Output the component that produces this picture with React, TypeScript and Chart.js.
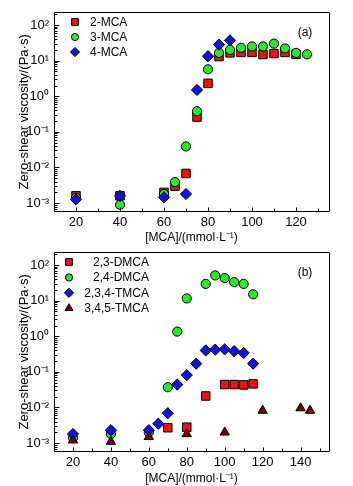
import React, { useEffect, useRef } from "react";
import { Chart, registerables } from "chart.js";
Chart.register(...registerables);

// ---------- Panel (a) data ----------
const mca2X = [20, 40, 60, 65, 70, 75, 80, 85, 90, 95, 100, 105, 110, 115, 120];
const mca2Y = [1.6e-3, 1.6e-3, 2.0e-3, 3.0e-3, 6.8e-3, 0.26, 2.3, 13, 16.5, 17, 17, 14.8, 15.8, 17, 15];
const mca3X = [20, 40, 60, 65, 70, 75, 80, 85, 90, 95, 100, 105, 110, 115, 120, 125];
const mca3Y = [1.4e-3, 9e-4, 1.8e-3, 3.9e-3, 0.039, 0.38, 5.7, 16.5, 20, 23, 25, 25, 30, 22, 16.5, 15];
const mca4X = [20, 40, 60, 70, 75, 80, 85, 90];
const mca4Y = [1.26e-3, 1.6e-3, 1.45e-3, 1.8e-3, 1.5, 13.3, 28, 37];

// ---------- Panel (b) data ----------
const dm23X = [70, 80, 90, 100, 105, 110, 115];
const dm23Y = [2.7e-3, 2.8e-3, 0.021, 0.044, 0.044, 0.043, 0.046];
const dm24X = [20, 40, 60, 70, 75, 80, 90, 95, 100, 105, 110, 115];
const dm24Y = [1.4e-3, 1.8e-3, 2.0e-3, 0.037, 1.35, 11.5, 29.5, 51, 43, 33, 29.5, 15];
const tm234X = [20, 40, 60, 65, 70, 75, 80, 85, 90, 95, 100, 105, 110, 115];
const tm234Y = [1.8e-3, 2.3e-3, 2.3e-3, 3.5e-3, 6.9e-3, 0.044, 0.081, 0.17, 0.4, 0.42, 0.43, 0.38, 0.34, 0.17];
const tm345X = [20, 40, 60, 80, 100, 120, 140, 145];
const tm345Y = [1.2e-3, 1.1e-3, 1.5e-3, 1.8e-3, 2.0e-3, 8.2e-3, 9.6e-3, 8.2e-3];

// ---------- Axis ticks ----------
const yTickValues = [1e-3, 1e-2, 1e-1, 1, 10, 100];
const yTickLabels = ["10⁻³", "10⁻²", "10⁻¹", "10⁰", "10¹", "10²"];
const xLabelValuesA = [20, 40, 60, 80, 100, 120];
const xLabelValuesB = [20, 40, 60, 80, 100, 120, 140];
const xMinorA = [10, 20, 30, 40, 50, 60, 70, 80, 90, 100, 110, 120, 130];
const xMinorB = [10, 20, 30, 40, 50, 60, 70, 80, 90, 100, 110, 120, 130, 140, 150];

const xTitle = "[MCA]/(mmol·L⁻¹)";
const yTitle = "Zero-shear viscosity/(Pa·s)";

const FONT = "'Liberation Sans', Arial, Helvetica, sans-serif";
const RED = "#f21010";
const GREEN = "#22ee22";
const BLUE = "#1010f0";
const DARKRED = "#7a0000";

type Series = {
  label: string;
  x: number[];
  y: number[];
  color: string;
  shape: string;
  r: number;
  lr: number;
  order: number;
};

const seriesA: Series[] = [
  { label: "2-MCA", x: mca2X, y: mca2Y, color: RED, shape: "rect", r: 6, lr: 4.8, order: 2 },
  { label: "3-MCA", x: mca3X, y: mca3Y, color: GREEN, shape: "circle", r: 4.6, lr: 3.6, order: 1 },
  { label: "4-MCA", x: mca4X, y: mca4Y, color: BLUE, shape: "rectRot", r: 5.6, lr: 4.6, order: 0 },
];
const seriesB: Series[] = [
  { label: "2,3-DMCA", x: dm23X, y: dm23Y, color: RED, shape: "rect", r: 6, lr: 4.8, order: 3 },
  { label: "2,4-DMCA", x: dm24X, y: dm24Y, color: GREEN, shape: "circle", r: 4.6, lr: 3.6, order: 2 },
  { label: "2,3,4-TMCA", x: tm234X, y: tm234Y, color: BLUE, shape: "rectRot", r: 5.6, lr: 4.6, order: 1 },
  { label: "3,4,5-TMCA", x: tm345X, y: tm345Y, color: DARKRED, shape: "triangle", r: 5.4, lr: 4.6, order: 0 },
];

function drawMarker(ctx: CanvasRenderingContext2D, shape: string, x: number, y: number, r: number, color: string) {
  ctx.beginPath();
  if (shape === "rect") {
    const s = Math.SQRT1_2 * r;
    ctx.rect(x - s, y - s, 2 * s, 2 * s);
  } else if (shape === "circle") {
    ctx.arc(x, y, r, 0, Math.PI * 2);
  } else if (shape === "rectRot") {
    ctx.moveTo(x, y - r);
    ctx.lineTo(x + r, y);
    ctx.lineTo(x, y + r);
    ctx.lineTo(x - r, y);
    ctx.closePath();
  } else if (shape === "triangle") {
    let a = 0;
    ctx.moveTo(x + Math.sin(a) * r, y - Math.cos(a) * r);
    a += (2 * Math.PI) / 3;
    ctx.lineTo(x + Math.sin(a) * r, y - Math.cos(a) * r);
    a += (2 * Math.PI) / 3;
    ctx.lineTo(x + Math.sin(a) * r, y - Math.cos(a) * r);
    ctx.closePath();
  }
  ctx.fillStyle = color;
  ctx.fill();
  ctx.strokeStyle = "#000";
  ctx.lineWidth = 1;
  ctx.stroke();
}

type PanelCfg = {
  series: Series[];
  xMin: number;
  xMax: number;
  xMinor: number[];
  xLabels: number[];
  height: number;
  panelLabel: string;
  legendAlign: "left" | "right";
  legendMarkerX: number;
  legendTextX: number;
  legendY0: number;
  legendDy: number;
};

const panelA: PanelCfg = {
  series: seriesA,
  xMin: 10,
  xMax: 135,
  xMinor: xMinorA,
  xLabels: xLabelValuesA,
  height: 245,
  panelLabel: "(a)",
  legendAlign: "left",
  legendMarkerX: 75,
  legendTextX: 90,
  legendY0: 22,
  legendDy: 15,
};
const panelB: PanelCfg = {
  series: seriesB,
  xMin: 10,
  xMax: 155,
  xMinor: xMinorB,
  xLabels: xLabelValuesB,
  height: 246,
  panelLabel: "(b)",
  legendAlign: "right",
  legendMarkerX: 69,
  legendTextX: 149,
  legendY0: 22,
  legendDy: 15.4,
};

function yAllTicks(min: number, max: number): number[] {
  const out: number[] = [];
  for (let k = -4; k <= 2; k++) {
    for (let m = 1; m <= 9; m++) {
      const v = m * Math.pow(10, k);
      if (v >= min * 0.999 && v <= max * 1.001) out.push(v);
    }
  }
  return out;
}

function makeDecor(cfg: PanelCfg) {
  return {
    id: "decor",
    afterDraw(chart: any) {
      const ctx: CanvasRenderingContext2D = chart.ctx;
      const { left, right, top, bottom } = chart.chartArea;
      const xs = chart.scales.x;
      const ys = chart.scales.y;
      const L = Math.floor(left) + 0.5;
      const R = Math.floor(right) + 0.5;
      const T = Math.floor(top) + 0.5;
      const B = Math.floor(bottom) + 0.5;
      ctx.save();
      ctx.strokeStyle = "#000";
      ctx.lineWidth = 1;
      ctx.beginPath();
      ctx.rect(L, T, R - L, B - T);
      ctx.stroke();
      // x ticks (inward)
      ctx.beginPath();
      for (const v of cfg.xMinor) {
        const px = Math.round(xs.getPixelForValue(v)) + 0.5;
        const len = cfg.xLabels.includes(v) ? 4 : 3;
        ctx.moveTo(px, B);
        ctx.lineTo(px, B - len);
      }
      // y ticks (inward)
      for (const t of ys.ticks) {
        const v = t.value;
        const py = Math.round(ys.getPixelForValue(v)) + 0.5;
        const isMajor = yTickValues.some((d) => Math.abs(Math.log10(d) - Math.log10(v)) < 1e-6);
        const len = isMajor ? 5 : 3;
        ctx.moveTo(L, py);
        ctx.lineTo(L + len, py);
      }
      ctx.stroke();
      // legend
      ctx.font = `12px ${FONT}`;
      ctx.textBaseline = "middle";
      cfg.series.forEach((s, i) => {
        const y = cfg.legendY0 + i * cfg.legendDy;
        drawMarker(ctx, s.shape, cfg.legendMarkerX, y, s.lr, s.color);
        ctx.fillStyle = "#000";
        ctx.textAlign = cfg.legendAlign;
        ctx.fillText(s.label, cfg.legendTextX, y + 0.5);
      });
      // panel label
      ctx.textAlign = "center";
      ctx.fillStyle = "#000";
      ctx.fillText(cfg.panelLabel, 305, 33);
      ctx.restore();
    },
  };
}

function Panel({ cfg, top }: { cfg: PanelCfg; top: number }) {
  const ref = useRef<HTMLCanvasElement>(null);
  useEffect(() => {
    if (!ref.current) return;
    const yMin = 6e-4;
    const yMax = 220;
    const chart = new Chart(ref.current, {
      type: "scatter",
      data: {
        datasets: cfg.series.map((s) => ({
          label: s.label,
          data: s.x.map((x, i) => ({ x, y: s.y[i] })),
          pointStyle: s.shape as any,
          pointRadius: s.r,
          pointHoverRadius: s.r,
          backgroundColor: s.color,
          borderColor: "#000",
          borderWidth: 1,
          showLine: false,
          order: s.order,
        })),
      },
      options: {
        responsive: false,
        animation: false,
        devicePixelRatio: 1,
        layout: { padding: { left: 0, right: 24, top: 9, bottom: 0 } },
        plugins: { legend: { display: false }, tooltip: { enabled: false } },
        scales: {
          x: {
            type: "linear",
            min: cfg.xMin,
            max: cfg.xMax,
            grid: { display: false, drawTicks: false },
            border: { display: false },
            afterBuildTicks: (scale: any) => {
              scale.ticks = cfg.xMinor.map((v) => ({ value: v }));
            },
            afterFit: (scale: any) => {
              scale.height = cfg.height - 211;
            },
            ticks: {
              autoSkip: false,
              maxRotation: 0,
              padding: 4,
              color: "#000",
              font: { family: FONT, size: 13 },
              callback: (v: any) => (cfg.xLabels.includes(Number(v)) ? String(v) : ""),
            },
            title: {
              display: true,
              text: xTitle,
              color: "#000",
              font: { family: FONT, size: 12 },
              padding: { top: 0, bottom: 0 },
            },
          },
          y: {
            type: "logarithmic",
            min: yMin,
            max: yMax,
            grid: { display: false, drawTicks: false },
            border: { display: false },
            afterBuildTicks: (scale: any) => {
              scale.ticks = yAllTicks(yMin, yMax).map((v) => ({ value: v }));
            },
            afterFit: (scale: any) => {
              scale.width = 54;
            },
            ticks: {
              autoSkip: false,
              padding: 5,
              color: "#000",
              font: { family: FONT, size: 13 },
              callback: (v: any) => {
                const n = Number(v);
                const i = yTickValues.findIndex((d) => Math.abs(Math.log10(d) - Math.log10(n)) < 1e-6);
                return i >= 0 ? yTickLabels[i] : "";
              },
            },
            title: {
              display: true,
              text: yTitle,
              color: "#000",
              font: { family: FONT, size: 13 },
              padding: { top: 17, bottom: 0 },
            },
          },
        },
      },
      plugins: [makeDecor(cfg)],
    } as any);
    return () => chart.destroy();
  }, [cfg]);
  return (
    <div style={{ position: "absolute", left: 0, top, width: 353, height: cfg.height }}>
      <canvas ref={ref} width={353} height={cfg.height} style={{ width: 353, height: cfg.height, display: "block" }} />
    </div>
  );
}

export default function App() {
  return (
    <div style={{ position: "absolute", left: 0, top: 0, width: 353, height: 486, background: "#fff" }}>
      <Panel cfg={panelA} top={0} />
      <Panel cfg={panelB} top={240} />
    </div>
  );
}
